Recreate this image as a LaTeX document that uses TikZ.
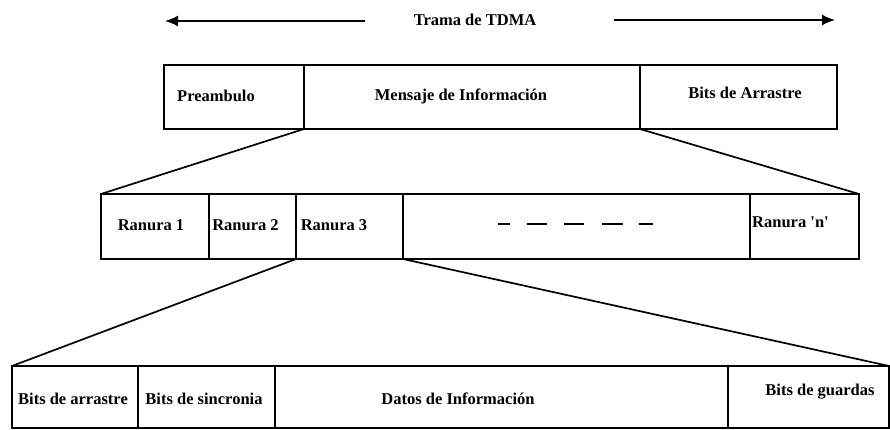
\documentclass[tikz,border=0pt]{standalone}
\usepackage{fontspec}
\setmainfont{Liberation Serif}
\usetikzlibrary{arrows.meta}
\begin{document}
\begin{tikzpicture}[x=1pt,y=-1pt,
  cell/.style={draw=black,line width=1.7pt,inner sep=0pt,outer sep=0pt},
  lbl/.style={inner sep=0pt,font=\bfseries\fontsize{16.5}{19}\selectfont},
  conn/.style={draw=black,line width=1.7pt},
  arr/.style={draw=black,line width=1.8pt,-{Latex[length=13pt,width=11pt]}},
  dashbar/.style={draw=black,line width=2.8pt}]
\useasboundingbox (0,0) rectangle (890,430);
% top frame
\node[cell,minimum width=140pt,minimum height=64pt] (pre) at (234,97) {};
\node[cell,minimum width=336pt,minimum height=64pt] (msg) at (472,97) {};
\node[cell,minimum width=197pt,minimum height=64pt] (bar) at (738.5,97) {};
% middle frame
\node[cell,minimum width=108pt,minimum height=65pt] (r1) at (155,226.5) {};
\node[cell,minimum width=87pt,minimum height=65pt] (r2) at (252.5,226.5) {};
\node[cell,minimum width=107pt,minimum height=65pt] (r3) at (349.5,226.5) {};
\node[cell,minimum width=347pt,minimum height=65pt] (rd) at (576.5,226.5) {};
\node[cell,minimum width=109pt,minimum height=65pt] (rn) at (804.5,226.5) {};
% bottom frame
\node[cell,minimum width=126pt,minimum height=62pt] (ba) at (75,397) {};
\node[cell,minimum width=137pt,minimum height=62pt] (bs) at (206.5,397) {};
\node[cell,minimum width=453pt,minimum height=62pt] (di) at (501.5,397) {};
\node[cell,minimum width=161pt,minimum height=62pt] (bg) at (808.5,397) {};
% title and arrows
\node[lbl] (title) at (475,20) {Trama de TDMA};
\coordinate (al) at (165,21);
\coordinate (ar) at (835,20);
\draw[arr] ([xshift=-49pt,yshift=-1pt]title.west) -- (al);
\draw[arr] ([xshift=78pt]title.east) -- (ar);
% labels
\node[lbl,anchor=west] (tpre) at (177,96) {Preambulo};
\node[lbl] (tmsg) at (461,96) {Mensaje de Información};
\node[lbl] (tbar) at (745,93) {Bits de Arrastre};
\node[lbl] (tr1) at (151,225) {Ranura 1};
\node[lbl] (tr2) at (245.5,225) {Ranura 2};
\node[lbl] (tr3) at (334,225) {Ranura 3};
\node[lbl,anchor=west] (trn) at (752,222) {Ranura \textquotesingle n\textquotesingle};
\node[lbl] (tba) at (73,399) {Bits de arrastre};
\node[lbl] (tbs) at (204,399) {Bits de sincronia};
\node[lbl] (tdi) at (458,399) {Datos de Información};
\node[lbl] (tbg) at (820,392) {Bits de guardas};
% dashes
\draw[dashbar] (498,224) -- (510,224) (527,224) -- (547,224) (564,224) -- (584,224)
  (602,224) -- (623,224) (639,224) -- (653,224);
% connectors
\draw[conn] (pre.south east) -- (r1.north west);
\draw[conn] (bar.south west) -- (rn.north east);
\draw[conn] (r2.south east) -- (ba.north west);
\draw[conn] (rd.south west) -- (bg.north east);
\end{tikzpicture}
\end{document}
